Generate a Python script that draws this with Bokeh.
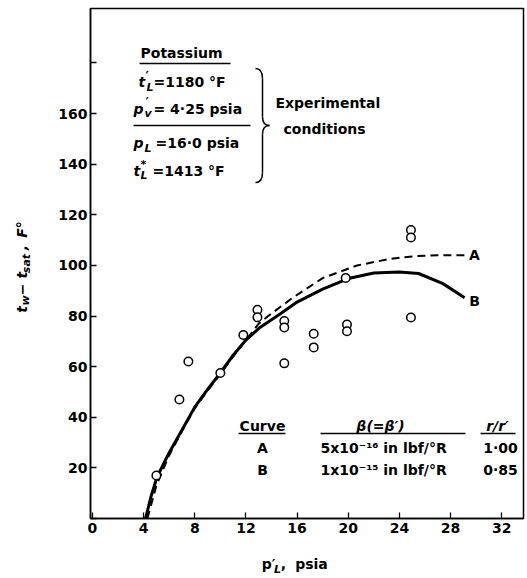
import math
from bokeh.plotting import figure
from bokeh.models import Range1d, Label, FixedTicker, LinearAxis
from bokeh.embed import file_html
from bokeh.resources import INLINE

# ---------------- data ----------------
curve_a_x = [4.3, 5, 6, 7, 8, 9, 10, 11, 12, 13, 14, 15.6, 18, 20.7, 23.3, 25.1, 27, 29.3]
curve_a_y = [0, 13, 25, 34.5, 43.5, 50.5, 57, 64, 70.5, 77, 81, 87, 95, 100, 102.6, 103.6, 104, 104]

curve_b_x = [4.15, 4.6, 5.05, 6, 7, 8, 9, 10, 11, 12, 13.1, 14.7, 16, 18, 20, 22, 24, 25.5, 27.4, 29.1]
curve_b_y = [0, 9, 16.4, 26, 35, 44, 51, 57.5, 64.5, 70.5, 75.5, 80.9, 85.5, 90.6, 94.8, 97, 97.4, 96.8, 92.8, 87.2]

points_x = [5, 6.8, 7.5, 10, 11.8, 12.9, 12.9, 15, 15, 15, 17.3, 17.3, 19.9, 19.9, 19.8, 24.9, 24.9, 24.9]
points_y = [17, 47, 62, 57.5, 72.5, 82.5, 79.5, 78, 75.5, 61.3, 73, 67.6, 76.6, 74, 95, 79.4, 114, 111]

x_ticks = [0, 4, 8, 12, 16, 20, 24, 28, 32]
y_ticks = [0, 20, 40, 60, 80, 100, 120, 140, 160, 180]
y_tick_labels = ["", "20", "40", "60", "80", "100", "120", "140", "160", ""]

table_curves = ["A", "B"]
table_beta = ["5x10\u207b\u00b9\u2076 in lbf/\u00b0R", "1x10\u207b\u00b9\u2075 in lbf/\u00b0R"]
table_ratio = ["1\u00b700", "0\u00b785"]

# axis title pieces: (text, pixel centre along axis)
x_title_main = [("p\u2032", 268), (",", 283), ("psia", 311)]
x_title_sub = [("L", 277)]
y_title_main = [("t", 309), ("\u2212 t", 283), (",", 247), ("F\u00b0", 229)]
y_title_sub = [("w", 300), ("sat", 263)]

# ---------------- layout ----------------
W, H = 527, 578
L_PX, R_PX, T_PX, B_PX = 90, 523, 8, 518
XMIN, XMAX = -0.15, 33.7
YMIN, YMAX = 0, 201.5


def X(px):
    return round(XMIN + (px - L_PX) * (XMAX - XMIN) / (R_PX - L_PX), 3)


def Y(py):
    return round(YMIN + (B_PX - py) * (YMAX - YMIN) / (B_PX - T_PX), 3)


FONT = "DejaVu Sans"

p = figure(width=W, height=H, output_backend="svg", toolbar_location=None,
           x_range=Range1d(XMIN, XMAX), y_range=Range1d(YMIN, YMAX))
p.min_border_left = L_PX
p.min_border_right = W - R_PX
p.min_border_top = T_PX
p.min_border_bottom = H - B_PX
p.background_fill_color = "white"
p.border_fill_color = "white"
p.outline_line_color = "black"
p.outline_line_width = 1.5
p.xgrid.visible = False
p.ygrid.visible = False

for ax in (p.xaxis[0], p.yaxis[0]):
    ax.axis_line_color = "black"
    ax.axis_line_width = 1.5
    ax.major_tick_in = 6
    ax.major_tick_out = 0
    ax.major_tick_line_width = 1.3
    ax.minor_tick_line_color = None
    ax.major_label_text_font = FONT
    ax.major_label_text_font_size = "14px"
    ax.major_label_text_font_style = "bold"
    ax.major_label_text_color = "black"

p.xaxis.ticker = FixedTicker(ticks=x_ticks)
p.yaxis.ticker = FixedTicker(ticks=y_ticks)
p.yaxis.major_label_overrides = {t: lab for t, lab in zip(y_ticks, y_tick_labels)}
p.xaxis.major_label_standoff = 4
p.yaxis.major_label_standoff = 3


def title_axis(pieces, side, conv, size, style, standoff, orient):
    ticks = [conv(c) for _, c in pieces]
    ax = LinearAxis(ticker=FixedTicker(ticks=ticks),
                    major_label_overrides={t: s for t, (s, _) in zip(ticks, pieces)})
    ax.axis_line_color = None
    ax.major_tick_line_color = None
    ax.minor_tick_line_color = None
    ax.major_tick_in = 0
    ax.major_tick_out = 0
    ax.major_label_standoff = standoff
    ax.major_label_text_font = FONT
    ax.major_label_text_font_size = f"{size}px"
    ax.major_label_text_font_style = style
    ax.major_label_text_color = "black"
    ax.major_label_orientation = orient
    p.add_layout(ax, side)


# x axis title: main text then subscript
title_axis(x_title_main, "below", X, 14, "bold", 20, "horizontal")
title_axis(x_title_sub, "below", X, 11, "bold italic", -12, "horizontal")
# y axis title (rotated): subscripts then main text
title_axis(y_title_sub, "left", Y, 11, "bold italic", 23, "vertical")
title_axis(y_title_main, "left", Y, 14, "bold italic", -14, "vertical")

# ---------------- curves and points ----------------
p.line(curve_a_x, curve_a_y, line_color="black", line_width=2, line_dash="8 5")
p.line(curve_b_x, curve_b_y, line_color="black", line_width=3)
p.scatter(points_x, points_y, marker="circle", size=8.5, line_color="black",
          line_width=1.5, fill_color="white")


def txt(px, py, s, size=14, align="left", style="bold"):
    p.add_layout(Label(x=X(px), y=Y(py), text=s, text_font=FONT,
                       text_font_size=f"{size}px", text_font_style=style,
                       text_align=align, text_baseline="middle", text_color="black"))


def hline(px0, px1, py, w=1.5):
    p.segment(x0=[X(px0)], y0=[Y(py)], x1=[X(px1)], y1=[Y(py)],
              line_color="black", line_width=w)


# curve end labels
txt(474, 255, table_curves[0], align="center")
txt(474, 300, table_curves[1], align="center")

# conditions block
txt(140, 53, "Potassium")
hline(139, 230, 63)
txt(138, 82, "t", style="bold italic")
txt(145, 75, "\u2032", size=13)
txt(146, 87, "L", size=11, style="bold italic")
txt(153, 82, "=1180 \u00b0F")
txt(133, 108, "p", style="bold italic")
txt(145, 101, "\u2032", size=13)
txt(144, 113, "v", size=11, style="bold italic")
txt(153, 108, "= 4\u00b725 psia")
hline(133, 250, 125)
txt(133, 143, "p", style="bold italic")
txt(144, 148, "L", size=11, style="bold italic")
txt(155, 143, "=16\u00b70 psia")
txt(133, 170, "t", style="bold italic")
txt(140, 164, "*", size=11)
txt(140, 175, "L", size=11, style="bold italic")
txt(152, 170, "=1413 \u00b0F")

# brace
bx = [(255, 68, 262, 78, 260, 68, 262, 72),
      (262, 116, 269, 125, 262, 122, 265, 125),
      (269, 125, 262, 134, 265, 125, 262, 128),
      (262, 172, 255, 182, 262, 178, 260, 182)]
p.bezier(x0=[X(b[0]) for b in bx], y0=[Y(b[1]) for b in bx],
         x1=[X(b[2]) for b in bx], y1=[Y(b[3]) for b in bx],
         cx0=[X(b[4]) for b in bx], cy0=[Y(b[5]) for b in bx],
         cx1=[X(b[6]) for b in bx], cy1=[Y(b[7]) for b in bx],
         line_color="black", line_width=1.5)
p.segment(x0=[X(262), X(262)], y0=[Y(78), Y(134)], x1=[X(262), X(262)], y1=[Y(116), Y(172)],
          line_color="black", line_width=1.5)

txt(275, 103, "Experimental")
txt(283, 128, "conditions")

# table
txt(262, 425, "Curve", align="center")
hline(238, 285, 433)
txt(380, 425, "\u03b2(=\u03b2\u2032)", align="center", style="bold italic")
hline(320, 465, 433)
txt(497, 425, "r/r\u2032", align="center", style="bold italic")
hline(480, 515, 433)
for i, py in enumerate([448, 470]):
    txt(262, py, table_curves[i], align="center")
    txt(320, py, table_beta[i])
    txt(500, py, table_ratio[i], align="center")

open("out.html", "w").write(file_html(p, INLINE))
